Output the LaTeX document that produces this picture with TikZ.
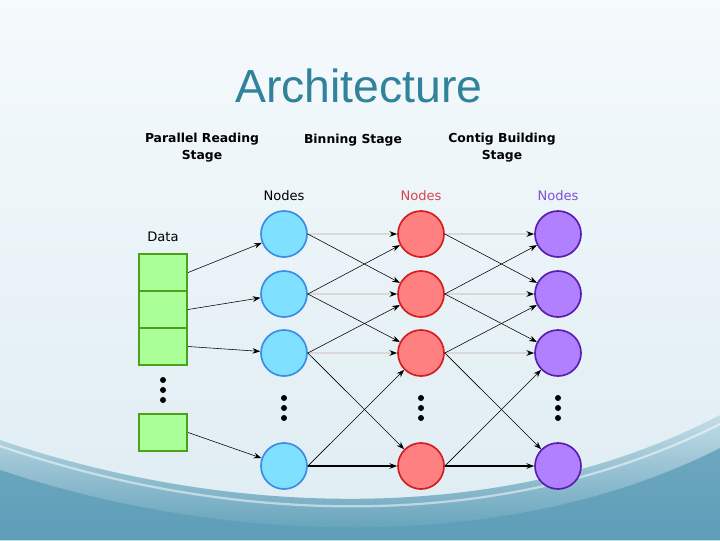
\documentclass[tikz,border=0pt]{standalone}
\usepackage{fontspec}
\setmainfont{DejaVu Sans}
\newfontfamily\titlefont{Liberation Sans}
\usepackage{tikz}
\usetikzlibrary{arrows.meta, positioning, shapes.geometric}
\definecolor{titleteal}{RGB}{49,130,155}
\definecolor{cyanfill}{RGB}{128,224,255}
\definecolor{cyanedge}{RGB}{58,140,228}
\definecolor{redfill}{RGB}{255,128,128}
\definecolor{rededge}{RGB}{212,30,36}
\definecolor{redtext}{RGB}{215,70,80}
\definecolor{violetfill}{RGB}{176,128,255}
\definecolor{violetedge}{RGB}{90,30,176}
\definecolor{violettext}{RGB}{128,80,216}
\definecolor{greenfill}{RGB}{170,255,153}
\definecolor{greenedge}{RGB}{76,160,26}
\definecolor{seablue}{RGB}{94,158,184}
\definecolor{midblue}{RGB}{196,221,231}
\definecolor{paleblue}{RGB}{245,250,252}
\definecolor{hazeblue}{RGB}{222,236,242}

\begin{document}
\begin{tikzpicture}[x=0.025cm, y=-0.025cm,
    unit/.style={circle, line width=1.2pt, minimum size=1.15cm, inner sep=0pt},
    reader/.style={unit, draw=cyanedge, fill=cyanfill},
    binner/.style={unit, draw=rededge, fill=redfill},
    builder/.style={unit, draw=violetedge, fill=violetfill},
    chunk/.style={rectangle, draw=greenedge, fill=greenfill, line width=1.6pt,
                  minimum width=1.2cm, minimum height=0.925cm, inner sep=0pt},
    link/.style={-{Stealth[length=5.5pt, width=4pt]}, line width=0.4pt},
    flat/.style={-{Stealth[length=5.5pt, width=4pt, black]}, line width=1.1pt, draw=gray!30},
    stage/.style={font=\bfseries\fontsize{8.8}{12}\selectfont, align=center},
    tag/.style={font=\fontsize{9.3}{11}\selectfont}
]
% background
\useasboundingbox (0,0) rectangle (720,540);
\shade[top color=paleblue, bottom color=hazeblue] (0,0) rectangle (720,540);
\shade[top color=midblue, bottom color=seablue]
  (0,440) .. controls (220,515) and (500,530) .. (720,415) -- (720,540) -- (0,540) -- cycle;
\draw[white, opacity=0.5, line width=1.6pt]
  (0,446) .. controls (230,525) and (500,535) .. (720,424);
\fill[seablue, opacity=0.8]
  (0,470) .. controls (240,550) and (520,550) .. (720,448) -- (720,540) -- (0,540) -- cycle;

% title and stage captions
\node[font=\titlefont\fontsize{33}{40}\selectfont, text=titleteal, anchor=base] (title) at (359,102) {Architecture};
\node[stage] (readcap) at (202,148) {Parallel Reading\\Stage};
\node[stage] (bincap) at (353,140) {Binning Stage};
\node[stage] (buildcap) at (502,148) {Contig Building\\Stage};
\node[tag] (readtag) at (284,196) {Nodes};
\node[tag, text=redtext] (bintag) at (421,196) {Nodes};
\node[tag, text=violettext] (buildtag) at (558,196) {Nodes};
\node[tag] (datatag) at (163,237) {Data};

% data chunks
\node[chunk] (d1) at (163,272.5) {};
\node[chunk] (d2) at (163,309.5) {};
\node[chunk] (d3) at (163,346.5) {};
\node[chunk] (d4) at (163,432.5) {};

% reading nodes
\node[reader] (b1) at (284,234) {};
\node[reader] (b2) at (284,294) {};
\node[reader] (b3) at (284,353) {};
\node[reader] (b4) at (284,466) {};
% binning nodes
\node[binner] (r1) at (421,234) {};
\node[binner] (r2) at (421,294) {};
\node[binner] (r3) at (421,353) {};
\node[binner] (r4) at (421,466) {};
% building nodes
\node[builder] (p1) at (558,234) {};
\node[builder] (p2) at (558,294) {};
\node[builder] (p3) at (558,353) {};
\node[builder] (p4) at (558,466) {};

% ellipsis dots
\foreach \y in {380,390,400} \fill (163,\y) circle (3);
\foreach \x in {284,421,558}
  \foreach \y in {398,408,418} \fill (\x,\y) circle (3);

% data -> readers
\draw[link] (d1.east) -- (b1);
\draw[link] (d2.east) -- (b2);
\draw[link] (d3.east) -- (b3);
\draw[link] (d4.east) -- (b4);

% readers -> binners
\draw[flat] (b1.east) -- (r1);
\draw[flat] (b2.east) -- (r2);
\draw[flat] (b3.east) -- (r3);
\draw[link, line width=0.8pt] (b4.east) -- (r4);
\draw[link] (b1.east) -- (r2);
\draw[link] (b2.east) -- (r1);
\draw[link] (b2.east) -- (r3);
\draw[link] (b3.east) -- (r2);
\draw[link] (b3.east) -- (r4);
\draw[link] (b4.east) -- (r3);

% binners -> builders
\draw[flat] (r1.east) -- (p1);
\draw[flat] (r2.east) -- (p2);
\draw[flat] (r3.east) -- (p3);
\draw[link, line width=0.8pt] (r4.east) -- (p4);
\draw[link] (r1.east) -- (p2);
\draw[link] (r2.east) -- (p1);
\draw[link] (r2.east) -- (p3);
\draw[link] (r3.east) -- (p2);
\draw[link] (r3.east) -- (p4);
\draw[link] (r4.east) -- (p3);
\end{tikzpicture}
\end{document}
